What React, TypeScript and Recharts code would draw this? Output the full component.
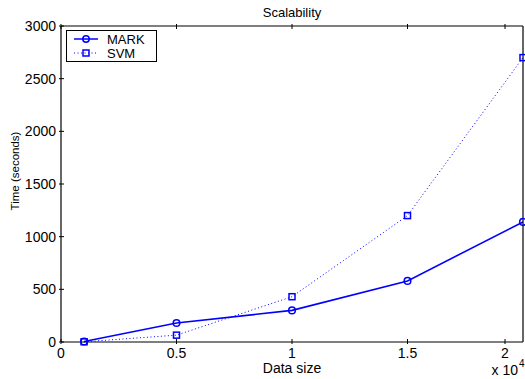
import React from "react";
import { Legend, Line, LineChart, XAxis, YAxis } from "recharts";

const dataSizes = [1000, 5000, 10000, 15000, 20000];
const markTimes = [5, 180, 300, 580, 1140];
const svmTimes = [2, 65, 430, 1200, 2700];

const xTicks = [0, 5000, 10000, 15000, 20000];
const yTicks = [0, 500, 1000, 1500, 2000, 2500, 3000];

const chartData = dataSizes.map((size, i) => ({
  size,
  MARK: markTimes[i],
  SVM: svmTimes[i],
}));

const FONT = "'Liberation Sans', Arial, Helvetica, sans-serif";
const BLUE = "#0000ff";
const TICK_LEN = 5;

const fmtX = (v: number) => String(v / 10000);

function BottomTick({ x, y, payload }: any) {
  return (
    <g>
      <line x1={x} y1={y} x2={x} y2={y - TICK_LEN} stroke="#000" strokeWidth={1} />
      <text x={x} y={y + 14} textAnchor="middle" fontFamily={FONT} fontSize={14} fill="#000">
        {fmtX(payload.value)}
      </text>
    </g>
  );
}

function TopTick({ x, y }: any) {
  return <line x1={x} y1={y} x2={x} y2={y + TICK_LEN} stroke="#000" strokeWidth={1} />;
}

function LeftTick({ x, y, payload }: any) {
  return (
    <g>
      <line x1={x} y1={y} x2={x + TICK_LEN} y2={y} stroke="#000" strokeWidth={1} />
      <text x={x - 3} y={y + 5} textAnchor="end" fontFamily={FONT} fontSize={14} fill="#000">
        {payload.value}
      </text>
    </g>
  );
}

function RightTick({ x, y }: any) {
  return <line x1={x} y1={y} x2={x - TICK_LEN} y2={y} stroke="#000" strokeWidth={1} />;
}

function SquareDot({ cx, cy }: any) {
  if (cx == null || cy == null) return null;
  return <rect x={cx - 3} y={cy - 3} width={6} height={6} fill="none" stroke={BLUE} strokeWidth={1.5} />;
}

function LegendBox() {
  return (
    <svg width={92} height={33} style={{ display: "block" }}>
      <rect x={0.5} y={0.5} width={90} height={31} fill="#fff" stroke="#000" strokeWidth={1} />
      <line x1={8} y1={9} x2={32} y2={9} stroke={BLUE} strokeWidth={1.5} />
      <circle cx={20} cy={9} r={3.2} fill="none" stroke={BLUE} strokeWidth={1.5} />
      <text x={41} y={13.5} fontFamily={FONT} fontSize={13} fill="#000">MARK</text>
      <line x1={8} y1={23} x2={32} y2={23} stroke={BLUE} strokeWidth={1} strokeDasharray="1 2.5" />
      <rect x={17} y={20} width={6} height={6} fill="none" stroke={BLUE} strokeWidth={1.5} />
      <text x={41} y={27.5} fontFamily={FONT} fontSize={13} fill="#000">SVM</text>
    </svg>
  );
}

export default function App() {
  return (
    <div style={{ position: "absolute", left: 0, top: 0, width: 525, height: 379, background: "#fff" }}>
      <LineChart width={525} height={379} data={chartData} margin={{ top: 25, right: 1, bottom: 0, left: 0 }}>
        <XAxis
          dataKey="size"
          type="number"
          domain={[0, 20000]}
          ticks={xTicks}
          height={37}
          tickSize={0}
          tickLine={false}
          axisLine={{ stroke: "#000", strokeWidth: 1.2 }}
          tick={<BottomTick />}
          label={(p: any) => {
            const vb = p.viewBox;
            return (
              <g>
                <text x={vb.x + vb.width / 2} y={vb.y + 31} textAnchor="middle" fontFamily={FONT} fontSize={14} fill="#000">
                  Data size
                </text>
                <text x={vb.x + vb.width - 5} y={vb.y + 33} textAnchor="end" fontFamily={FONT} fontSize={14} fill="#000">
                  x 10
                </text>
                <text x={vb.x + vb.width - 4} y={vb.y + 25} textAnchor="start" fontFamily={FONT} fontSize={10} fill="#000">
                  4
                </text>
              </g>
            );
          }}
        />
        <XAxis
          xAxisId="top"
          dataKey="size"
          type="number"
          orientation="top"
          domain={[0, 20000]}
          ticks={xTicks}
          height={1}
          tickSize={0}
          tickLine={false}
          axisLine={{ stroke: "#000", strokeWidth: 1.2 }}
          tick={<TopTick />}
          label={(p: any) => {
            const vb = p.viewBox;
            return (
              <text x={vb.x + vb.width / 2} y={vb.y - 8} textAnchor="middle" fontFamily={FONT} fontSize={13} fill="#000">
                Scalability
              </text>
            );
          }}
        />
        <YAxis
          type="number"
          domain={[0, 3000]}
          ticks={yTicks}
          width={61}
          tickSize={0}
          tickLine={false}
          axisLine={{ stroke: "#000", strokeWidth: 1.2 }}
          tick={<LeftTick />}
          label={(p: any) => {
            const vb = p.viewBox;
            const cx = 15;
            const cy = vb.y + vb.height / 2 - 13;
            return (
              <text
                x={cx}
                y={cy}
                transform={`rotate(-90 ${cx} ${cy})`}
                textAnchor="middle"
                dominantBaseline="central"
                fontFamily={FONT}
                fontSize={11.5}
                fill="#000"
              >
                Time (seconds)
              </text>
            );
          }}
        />
        <YAxis
          yAxisId="right"
          type="number"
          orientation="right"
          domain={[0, 3000]}
          ticks={yTicks}
          width={1}
          tickSize={0}
          tickLine={false}
          axisLine={{ stroke: "#000", strokeWidth: 1.2 }}
          tick={<RightTick />}
        />
        <Legend
          layout="vertical"
          align="center"
          verticalAlign="middle"
          wrapperStyle={{ left: 66, top: 30, width: 92, height: 33 }}
          content={() => <LegendBox />}
        />
        <Line
          dataKey="SVM"
          stroke={BLUE}
          strokeWidth={1}
          strokeDasharray="1 2.5"
          dot={<SquareDot />}
          activeDot={false}
          isAnimationActive={false}
        />
        <Line
          dataKey="MARK"
          stroke={BLUE}
          strokeWidth={1.6}
          dot={{ r: 3.3, fill: "none", stroke: BLUE, strokeWidth: 1.5 }}
          activeDot={false}
          isAnimationActive={false}
        />
      </LineChart>
    </div>
  );
}
